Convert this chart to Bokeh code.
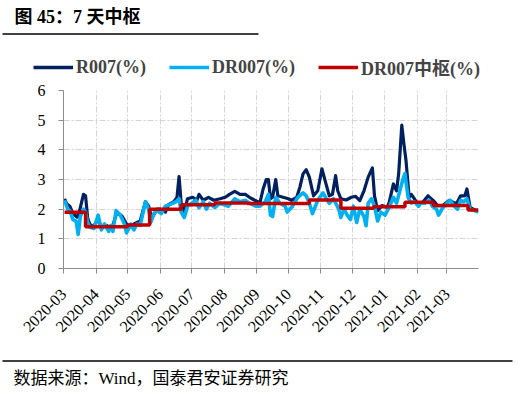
import math
import pandas as pd
from bokeh.plotting import figure
from bokeh.layouts import column, row
from bokeh.models import (Legend, LegendItem, MonthsTicker, DatetimeTickFormatter,
                          FixedTicker, Range1d)
from bokeh.core.properties import value
from bokeh.embed import file_html
from bokeh.resources import INLINE

# ---------------- data ----------------
r_dates = ["2020-03-02", "2020-03-04", "2020-03-07", "2020-03-10", "2020-03-14", "2020-03-16",
           "2020-03-20", "2020-03-22", "2020-03-24", "2020-03-26", "2020-03-29", "2020-04-03",
           "2020-04-06", "2020-04-11", "2020-04-16", "2020-04-21", "2020-04-26", "2020-04-30",
           "2020-05-04", "2020-05-07", "2020-05-13", "2020-05-18", "2020-05-21", "2020-05-24",
           "2020-05-29", "2020-06-01", "2020-06-06", "2020-06-09", "2020-06-14", "2020-06-17",
           "2020-06-19", "2020-06-21", "2020-06-24", "2020-06-27", "2020-07-02", "2020-07-06",
           "2020-07-08", "2020-07-12", "2020-07-17", "2020-07-22", "2020-07-28", "2020-08-02",
           "2020-08-06", "2020-08-11", "2020-08-16", "2020-08-21", "2020-08-25", "2020-08-30",
           "2020-09-04", "2020-09-07", "2020-09-10", "2020-09-12", "2020-09-14", "2020-09-16",
           "2020-09-19", "2020-09-21", "2020-09-26", "2020-10-01", "2020-10-04", "2020-10-09",
           "2020-10-12", "2020-10-15", "2020-10-18", "2020-10-21", "2020-10-25", "2020-10-29",
           "2020-11-02", "2020-11-05", "2020-11-09", "2020-11-12", "2020-11-15", "2020-11-17",
           "2020-11-20", "2020-11-25", "2020-11-30", "2020-12-04", "2020-12-08", "2020-12-12",
           "2020-12-16", "2020-12-20", "2020-12-22", "2020-12-25", "2020-12-29", "2021-01-03",
           "2021-01-05", "2021-01-09", "2021-01-12", "2021-01-14", "2021-01-17", "2021-01-19",
           "2021-01-21", "2021-01-24", "2021-01-26", "2021-01-29", "2021-02-01", "2021-02-06",
           "2021-02-11", "2021-02-16", "2021-02-20", "2021-02-25", "2021-03-03", "2021-03-10",
           "2021-03-14", "2021-03-18", "2021-03-20", "2021-03-23", "2021-03-26", "2021-03-30"]
r_vals = [2.35, 2.18, 2.10, 1.85, 1.73, 1.90,
          2.50, 2.45, 1.70, 1.50, 1.40, 1.65,
          1.40, 1.45, 1.35, 1.90, 1.75, 1.50,
          1.40, 1.50, 1.60, 2.25, 2.10, 1.70,
          2.00, 2.00, 1.90, 2.15, 2.25, 2.40,
          3.10, 2.20, 1.90, 2.35, 2.40, 2.30,
          2.50, 2.30, 2.40, 2.30, 2.35, 2.40,
          2.50, 2.60, 2.50, 2.50, 2.40, 2.30,
          2.22, 2.68, 3.00, 3.00, 2.35, 2.40,
          3.00, 2.45, 2.40, 2.35, 2.30, 2.40,
          2.74, 3.19, 3.33, 3.08, 2.45, 2.62,
          3.36, 2.96, 2.45, 2.50, 3.13, 2.62,
          2.35, 2.31, 2.40, 2.43, 2.29, 2.62,
          3.08, 3.39, 2.45, 1.95, 2.12, 2.06,
          2.23, 2.85, 2.62, 3.19, 4.83, 4.20,
          3.64, 2.40, 2.50, 2.35, 2.18, 2.23,
          2.45, 2.29, 2.12, 2.12, 2.29, 2.18,
          2.45, 2.45, 2.68, 2.06, 2.00, 1.93]

dr_dates = ["2020-03-02", "2020-03-05", "2020-03-07", "2020-03-10", "2020-03-13", "2020-03-15",
            "2020-03-17", "2020-03-20", "2020-03-22", "2020-03-24", "2020-03-26", "2020-03-30",
            "2020-04-03", "2020-04-06", "2020-04-09", "2020-04-13", "2020-04-15", "2020-04-17",
            "2020-04-20", "2020-04-24", "2020-04-28", "2020-04-30", "2020-05-04", "2020-05-07",
            "2020-05-10", "2020-05-13", "2020-05-18", "2020-05-21", "2020-05-23", "2020-05-26",
            "2020-05-29", "2020-06-02", "2020-06-06", "2020-06-10", "2020-06-16", "2020-06-19",
            "2020-06-21", "2020-06-24", "2020-06-27", "2020-07-01", "2020-07-05", "2020-07-08",
            "2020-07-12", "2020-07-15", "2020-07-18", "2020-07-23", "2020-07-28", "2020-08-05",
            "2020-08-11", "2020-08-16", "2020-08-21", "2020-08-25", "2020-08-31", "2020-09-04",
            "2020-09-09", "2020-09-12", "2020-09-14", "2020-09-16", "2020-09-19", "2020-09-23",
            "2020-09-28", "2020-09-30", "2020-10-05", "2020-10-10", "2020-10-15", "2020-10-18",
            "2020-10-21", "2020-10-24", "2020-10-29", "2020-11-03", "2020-11-07", "2020-11-09",
            "2020-11-13", "2020-11-18", "2020-11-20", "2020-11-23", "2020-11-26", "2020-11-29",
            "2020-12-02", "2020-12-05", "2020-12-08", "2020-12-12", "2020-12-14", "2020-12-16",
            "2020-12-19", "2020-12-22", "2020-12-25", "2020-12-28", "2021-01-01", "2021-01-04",
            "2021-01-06", "2021-01-09", "2021-01-12", "2021-01-15", "2021-01-18", "2021-01-20",
            "2021-01-23", "2021-01-26", "2021-01-29", "2021-02-02", "2021-02-04", "2021-02-08",
            "2021-02-12", "2021-02-15", "2021-02-19", "2021-02-21", "2021-02-25", "2021-03-01",
            "2021-03-04", "2021-03-08", "2021-03-11", "2021-03-14", "2021-03-17", "2021-03-20",
            "2021-03-23", "2021-03-27", "2021-03-31"]
dr_vals = [2.30, 2.00, 1.95, 1.65, 1.60, 1.15,
           1.75, 2.00, 1.90, 1.55, 1.40, 1.35,
           1.80, 1.30, 1.50, 1.25, 1.45, 1.25,
           1.95, 1.80, 1.50, 1.20, 1.50, 1.30,
           1.50, 1.45, 2.25, 2.00, 1.55, 1.85,
           1.95, 1.85, 2.10, 2.15, 2.25, 2.35,
           1.90, 1.72, 2.10, 2.20, 2.30, 2.05,
           2.25, 2.00, 2.20, 2.05, 2.20, 2.10,
           2.35, 2.25, 2.30, 2.20, 2.10, 2.10,
           2.25, 2.50, 1.80, 1.75, 2.40, 2.20,
           2.10, 1.90, 2.10, 2.40, 2.55, 2.45,
           2.20, 1.85, 2.30, 2.55, 2.30, 2.20,
           2.35, 2.00, 1.72, 2.00, 1.80, 1.65,
           2.10, 1.55, 2.00, 1.75, 1.44, 2.20,
           2.35, 2.10, 1.60, 1.90, 1.80, 2.00,
           2.15, 2.40, 2.20, 2.60, 3.00, 3.20,
           2.40, 2.20, 2.25, 2.10, 2.20, 2.20,
           2.30, 2.10, 2.00, 1.80, 2.05, 2.20,
           2.30, 2.10, 2.00, 2.30, 2.25, 2.35,
           2.00, 1.95, 1.90]

center_dates = ["2020-03-02", "2020-03-22", "2020-05-01", "2020-05-22", "2020-06-21", "2020-07-23",
                "2020-08-23", "2020-10-21", "2020-11-20", "2020-12-21", "2021-01-20", "2021-02-16",
                "2021-03-21", "2021-03-31"]
center_vals = [1.90, 1.41, 1.47, 2.00, 2.15, 2.21,
               2.19, 2.31, 2.03, 2.08, 2.23, 2.12,
               1.97, 1.97]

series_names = ["R007(%)", "DR007(%)", "DR007中枢(%)"]
series_colors = ["#002060", "#00B0F0", "#C00000"]
title_text = "图 45：7 天中枢"
source_text = "数据来源：Wind，国泰君安证券研究"
y_ticks = [0, 1, 2, 3, 4, 5, 6]

SERIF = "Liberation Serif, Noto Sans CJK SC"
W = 518


def blank(height):
    f = figure(width=W, height=height, output_backend="svg", toolbar_location=None,
               x_axis_location=None, y_axis_location=None,
               min_border_left=0, min_border_right=0, min_border_top=0, min_border_bottom=0,
               x_range=Range1d(0, W), y_range=Range1d(height, 0))
    f.outline_line_color = None
    f.xgrid.visible = False
    f.ygrid.visible = False
    return f


# ---------------- header: title, rule, legend ----------------
HEAD_H = 80
head = blank(HEAD_H)
head.text(x=[14], y=[16], text=[title_text], text_font=value(SERIF), text_font_style="bold",
          text_font_size="18px", text_baseline="middle", text_color="#000000")
head.segment(x0=[2], y0=[33.5], x1=[258], y1=[33.5], line_color="#000000", line_width=1.3)
dummies = []
for c in series_colors:
    dummies.append(head.line(x=[-100, -90], y=[-100, -100], line_color=c, line_width=3.5))
legend = Legend(items=[LegendItem(label=n, renderers=[d]) for n, d in zip(series_names, dummies)],
                orientation="horizontal", location=(33, 0))
legend.label_text_font = SERIF
legend.label_text_font_style = "bold"
legend.label_text_font_size = "18px"
legend.glyph_width = 40
legend.glyph_height = 20
legend.label_height = 20
legend.label_standoff = 3
legend.spacing = 23
legend.padding = 0
legend.margin = 0
legend.border_line_color = None
legend.background_fill_alpha = 0
head.add_layout(legend, "center")

# ---------------- main chart ----------------
MAIN_H = 270
p = figure(width=W, height=MAIN_H, x_axis_type="datetime", output_backend="svg",
           toolbar_location=None, min_border_left=63, min_border_right=40,
           min_border_top=10, min_border_bottom=82)
p.x_range = Range1d(pd.Timestamp("2020-03-01"), pd.Timestamp("2021-03-31"))
p.y_range = Range1d(0, 6)
p.outline_line_color = None

p.line(pd.to_datetime(r_dates), r_vals, line_color=series_colors[0], line_width=3.2,
       line_join="round")
p.line(pd.to_datetime(dr_dates), dr_vals, line_color=series_colors[1], line_width=3.6,
       line_join="round")
p.step(pd.to_datetime(center_dates), center_vals, mode="after", line_color=series_colors[2],
       line_width=3.5)

p.xaxis.ticker = MonthsTicker(months=list(range(12)))
p.xaxis.formatter = DatetimeTickFormatter(months="%Y-%m", days="%Y-%m")
p.xaxis.major_label_orientation = math.pi / 4
p.yaxis.ticker = FixedTicker(ticks=y_ticks)
for ax in (p.xaxis, p.yaxis):
    ax.axis_line_color = "#8C8C8C"
    ax.major_tick_line_color = "#8C8C8C"
    ax.major_tick_in = 0
    ax.major_tick_out = 5
    ax.minor_tick_line_color = None
    ax.major_label_text_font = SERIF
    ax.major_label_text_font_size = "16px"
    ax.major_label_text_color = "#000000"
p.xaxis.major_label_standoff = 18
p.yaxis.major_label_standoff = 13

p.xgrid.ticker = MonthsTicker(months=list(range(12)))
for g in (p.xgrid, p.ygrid):
    g.grid_line_color = "#D4D4D4"
    g.grid_line_dash = "6 2 2 2"
    g.grid_line_width = 1

# ---------------- footer: rule and source ----------------
FOOT_H = 395 - HEAD_H - MAIN_H
foot = blank(FOOT_H)
foot.segment(x0=[2], y0=[10.5], x1=[512], y1=[10.5], line_color="#000000", line_width=1.3)
foot.text(x=[13], y=[28], text=[source_text], text_font=value(SERIF), text_font_size="17px",
          text_baseline="middle", text_color="#000000")

layout = column(row(head), p, row(foot), spacing=0)
open("out.html", "w").write(file_html(layout, INLINE))
